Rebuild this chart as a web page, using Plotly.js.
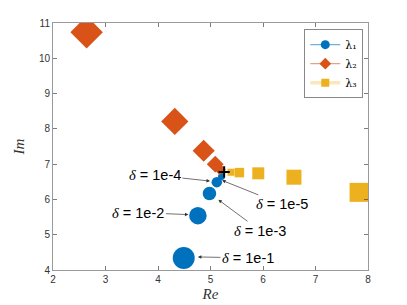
<!DOCTYPE html>
<html>
<head>
<meta charset="utf-8">
<script src="https://cdn.plot.ly/plotly-3.0.1.min.js"></script>
<style>html,body{margin:0;padding:0;background:#fff;}#chart{width:407px;height:305px;}</style>
</head>
<body>
<div id="chart"></div>
<script>
// delta levels: 1e-1 .. 1e-5
const deltas = ['1e-1', '1e-2', '1e-3', '1e-4', '1e-5'];
const lambda1Re = [4.49, 4.76, 4.98, 5.12, 5.21];
const lambda1Im = [4.34, 5.54, 6.17, 6.49, 6.65];
const lambda2Re = [2.64, 4.32, 4.87, 5.09, 5.18];
const lambda2Im = [10.74, 8.21, 7.38, 7.00, 6.85];
const lambda3Re = [7.83, 6.59, 5.91, 5.55, 5.39];
const lambda3Im = [6.20, 6.63, 6.74, 6.76, 6.77];
const limitRe = [5.26];
const limitIm = [6.78];
const seriesNames = ['λ₁', 'λ₂', 'λ₃'];

const blue = '#0072BD', orange = '#D95319', yellow = '#EDB120';
const circleSizes = [22, 17.5, 13.5, 10.5, 7];
const diamondSizes = [25, 21, 17, 13, 9];
const squareSizes = [19, 15, 12, 9.5, 7];

const traces = [
  {x: lambda1Re, y: lambda1Im, mode: 'markers', showlegend: false,
   marker: {symbol: 'circle', color: blue, size: circleSizes, opacity: 1, line: {width: 0}}},
  {x: lambda2Re, y: lambda2Im, mode: 'markers', showlegend: false,
   marker: {symbol: 'diamond', color: orange, size: diamondSizes, opacity: 1, line: {width: 0}}},
  {x: lambda3Re, y: lambda3Im, mode: 'markers', showlegend: false,
   marker: {symbol: 'square', color: yellow, size: squareSizes, opacity: 1, line: {width: 0}}},
  {x: limitRe, y: limitIm, mode: 'markers', showlegend: false,
   marker: {symbol: 'cross-thin', color: '#000', size: 8, opacity: 1, line: {width: 2, color: '#000'}}},
  // legend entries
  {x: [null], y: [null], mode: 'lines+markers', name: seriesNames[0],
   line: {color: 'rgba(0,114,189,0.55)', width: 1.2}, marker: {symbol: 'circle', color: blue, size: 9}},
  {x: [null], y: [null], mode: 'lines+markers', name: seriesNames[1],
   line: {color: 'rgba(217,83,25,0.55)', width: 1.2}, marker: {symbol: 'diamond', color: orange, size: 9}},
  {x: [null], y: [null], mode: 'lines+markers', name: seriesNames[2],
   line: {color: 'rgba(237,177,32,0.3)', width: 3.5}, marker: {symbol: 'square', color: yellow, size: 8}}
];

const annFont = {family: 'Liberation Sans, Arial, sans-serif', size: 14.5, color: '#000'};
function ann(i, x, y, ax, ay) {
  return {x: x, y: y, xref: 'x', yref: 'y', ax: ax, ay: ay,
    text: '<i style="font-family:Liberation Serif">δ</i> = ' + deltas[i],
    showarrow: true, arrowhead: 2, arrowsize: 1, arrowwidth: 0.7, arrowcolor: '#333',
    font: annFont, standoff: 0};
}

const axisCommon = {
  showgrid: false, zeroline: false, ticks: 'inside', ticklen: 4, tickwidth: 0.7,
  tickcolor: '#444', showline: true, linecolor: '#9a9a9a', linewidth: 1, mirror: 'ticks',
  tickfont: {family: 'Liberation Sans, Arial, sans-serif', size: 10, color: '#333'}
};

const layout = {
  width: 407, height: 305,
  margin: {l: 53, r: 39, t: 23, b: 35},
  paper_bgcolor: '#fff', plot_bgcolor: '#fff',
  xaxis: Object.assign({}, axisCommon, {range: [2, 8], dtick: 1,
    title: {text: '<i>Re</i>', font: {family: 'Liberation Serif, serif', size: 15, color: '#333'}, standoff: 4}}),
  yaxis: Object.assign({}, axisCommon, {range: [4, 11], dtick: 1,
    title: {text: '<i>Im</i>', font: {family: 'Liberation Serif, serif', size: 15, color: '#333'}, standoff: 10}}),
  legend: {x: 0.985, y: 0.975, xanchor: 'right', yanchor: 'top', bgcolor: '#fff',
    bordercolor: '#888', borderwidth: 1, tracegroupgap: 0, itemwidth: 30,
    font: {family: 'DejaVu Serif, serif', size: 11, color: '#000'}},
  annotations: [
    ann(0, 4.76, 4.37, 50, 1),
    ann(1, 4.58, 5.57, -50, -2),
    ann(2, 5.15, 5.99, 42, 31),
    ann(3, 4.99, 6.52, -55, -6),
    ann(4, 5.22, 6.54, 60, 24)
  ],
  showlegend: true
};

Plotly.newPlot('chart', traces, layout, {displayModeBar: false, staticPlot: true});
</script>
</body>
</html>
